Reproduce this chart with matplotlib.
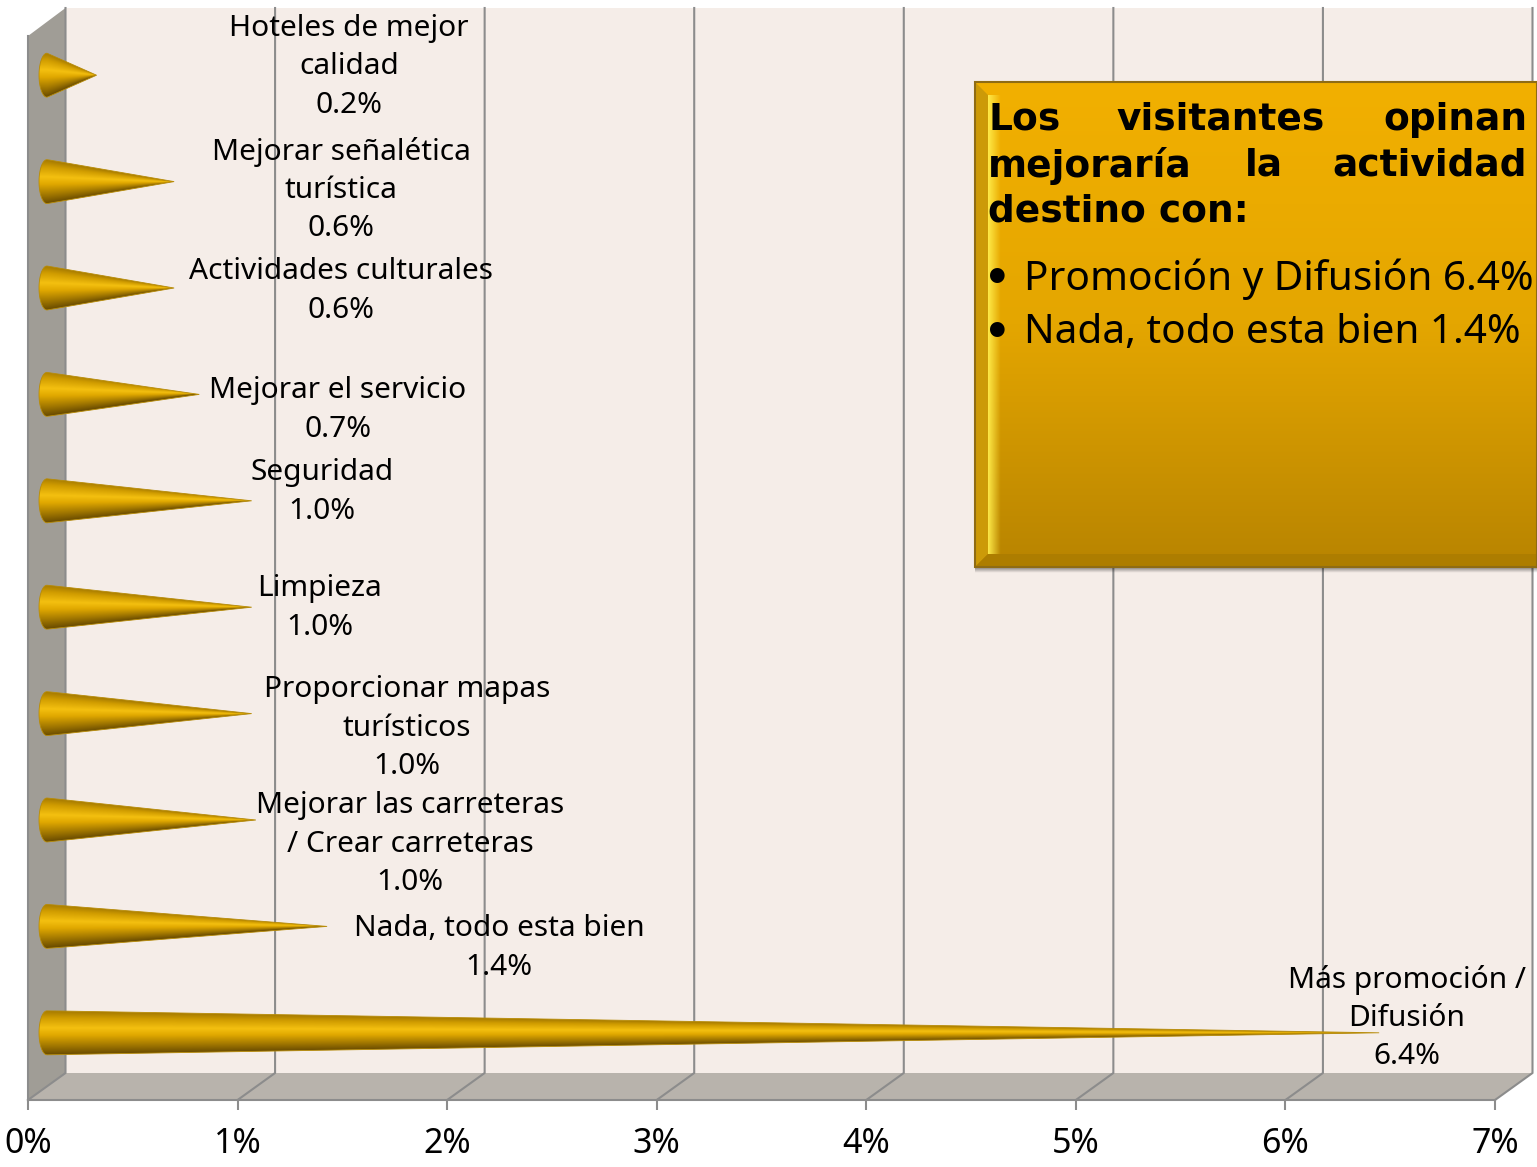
import matplotlib
matplotlib.use('Agg')
import matplotlib.pyplot as plt
import numpy as np
from matplotlib.colors import LinearSegmentedColormap
from matplotlib.patches import Polygon

# Datos, de abajo hacia arriba
categorias = ['Más promoción /\nDifusión', 'Nada, todo esta bien',
              'Mejorar las carreteras\n/ Crear carreteras',
              'Proporcionar mapas\nturísticos', 'Limpieza', 'Seguridad',
              'Mejorar el servicio', 'Actividades culturales',
              'Mejorar señalética\nturística', 'Hoteles de mejor\ncalidad']
valores = [6.39, 1.37, 1.03, 1.01, 1.01, 1.01, 0.76, 0.64, 0.64, 0.27]
etiquetas = ['6.4%', '1.4%', '1.0%', '1.0%', '1.0%', '1.0%', '0.7%', '0.6%', '0.6%', '0.2%']
ticks = [0, 1, 2, 3, 4, 5, 6, 7]
tick_labels = ['0%', '1%', '2%', '3%', '4%', '5%', '6%', '7%']

# Centro de cada etiqueta en pixeles
etiqueta_x = [1407, 499, 410, 407, 320, 322, 338, 341, 341, 349]
etiqueta_y = [1018, 948, 844, 728, 608, 492, 410, 291, 190, 67]

W, H = 1537, 1167
FUENTE = ['Noto Sans', 'DejaVu Sans']
GRIS = '#8c8c8c'
plt.rcParams['font.family'] = FUENTE

fig = plt.figure(figsize=(W / 100, H / 100), dpi=100)

# Fondo en pixeles: paredes y cuadro de texto
bg = fig.add_axes([0, 0, 1, 1], zorder=0)
bg.set_xlim(0, W)
bg.set_ylim(H, 0)
bg.axis('off')

X0, X7, Y_TOP, Y_BOT = 28, 1495, 36, 1100
DX, DY = 37.5, 27
PASO = (X7 - X0) / 7

bg.add_patch(Polygon([(X0 + DX, Y_TOP - 28), (X7 + DX, Y_TOP - 28), (X7 + DX, Y_BOT - DY), (X0 + DX, Y_BOT - DY)],
                     fc='#f5ede8', ec='none'))
bg.add_patch(Polygon([(X0, Y_TOP), (X0 + DX, Y_TOP - 28), (X0 + DX, Y_BOT - DY), (X0, Y_BOT)],
                     fc='#a09d96', ec='none'))
bg.add_patch(Polygon([(X0, Y_BOT), (X0 + DX, Y_BOT - DY), (X7 + DX, Y_BOT - DY), (X7, Y_BOT)],
                     fc='#b8b3ac', ec='none'))
for t in ticks:
    x = X0 + t * PASO
    bg.plot([x, x + DX, x + DX], [Y_BOT, Y_BOT - DY, Y_TOP - 28], color=GRIS, lw=1.5, zorder=2)

# Sombra bajo el cuadro
sombra = np.zeros((16, 1, 4))
sombra[:, 0, 3] = np.linspace(0.45, 0, 16)
bg.imshow(sombra, extent=[975, 1537, 573, 567], aspect='auto', zorder=2.5)

# Cuadro con degradado y bisel
caja = [975, 1537, 82, 567]
grad = LinearSegmentedColormap.from_list('caja', ['#f2b000', '#e4a600', '#b88400'])
bg.imshow(np.linspace(0, 1, 256).reshape(-1, 1), extent=[caja[0], caja[1], caja[3], caja[2]],
          cmap=grad, aspect='auto', zorder=3)
bg.add_patch(Polygon([(975, 82), (988, 95), (988, 554), (975, 567)], fc='#cc9a08', ec='none', zorder=3.1))
brillo = np.zeros((1, 32, 4))
brillo[0, :, :3] = [1, 0.93, 0.3]
brillo[0, :, 3] = np.linspace(0.95, 0, 32)
bg.imshow(brillo, extent=[988, 1001, 554, 95], aspect='auto', zorder=3.1)
bg.add_patch(Polygon([(975, 567), (988, 554), (1537, 554), (1537, 567)], fc='#ad7d00', ec='none', zorder=3.2))
bg.add_patch(Polygon([(975, 82), (1537, 82), (1537, 567), (975, 567)], fc='none', ec='#8f6c14', lw=1.5, zorder=4))
bg.set_xlim(0, W)
bg.set_ylim(H, 0)

NEGRITA = {'fontsize': 27, 'fontweight': 'bold', 'family': 'DejaVu Sans', 'va': 'center', 'zorder': 5}
bg.text(988, 120, 'Los', ha='left', **NEGRITA)
bg.text(1221, 120, 'visitantes', ha='center', **NEGRITA)
bg.text(1527, 120, 'opinan', ha='right', **NEGRITA)
bg.text(988, 166, 'mejoraría', ha='left', **NEGRITA)
bg.text(1264, 166, 'la', ha='center', **NEGRITA)
bg.text(1527, 166, 'actividad', ha='right', **NEGRITA)
bg.text(988, 212, 'destino con:', ha='left', **NEGRITA)
for txt, y in [('Promoción y Difusión 6.4%', 275), ('Nada, todo esta bien 1.4%', 329)]:
    bg.text(997, y + 4, '•', fontsize=30, family='DejaVu Sans', fontweight='bold', ha='center', va='center', zorder=5)
    bg.text(1024, y + 4, txt, fontsize=29.2, ha='left', va='center', zorder=5)

# Ejes de datos, plano frontal
ax = fig.add_axes([X0 / W, 1 - Y_BOT / H, (X7 - X0) / W, (Y_BOT - Y_TOP) / H], zorder=1)
ax.patch.set_alpha(0)
ax.set_xlim(0, 7)
ax.set_ylim(-0.5, 9.5)
for s in ['top', 'right']:
    ax.spines[s].set_visible(False)
for s in ['left', 'bottom']:
    ax.spines[s].set_color(GRIS)
    ax.spines[s].set_linewidth(1.5)
ax.set_yticks([])
ax.set_xticks(ticks)
ax.set_xticklabels(tick_labels, fontsize=24.5)
ax.tick_params(axis='x', length=7.5, width=1.5, color=GRIS, pad=12)

# Conos
conos = LinearSegmentedColormap.from_list('cono', [
    (0.0, '#a87c00'), (0.15, '#d09c00'), (0.38, '#f4c010'), (0.55, '#e0a800'),
    (0.8, '#a07600'), (1.0, '#6a4c00')])
ux, uy = 1 / PASO, 10 / (Y_BOT - Y_TOP)  # unidades de dato por pixel
sx, sy = 12 * ux, 14 * uy  # desplazamiento de profundidad
base_x, rx, ry = 19 * ux, 8 * ux, 22 * uy

for i, v in enumerate(valores):
    yc = i + sy
    punta = v + sx
    th = np.linspace(np.pi / 2, 3 * np.pi / 2, 30)
    borde = np.column_stack([base_x + rx * np.cos(th), yc + ry * np.sin(th)])
    poli = np.vstack([borde, [punta, yc]])

    xs = np.linspace(base_x - rx, punta, 500)
    ys = np.linspace(1, -1, 120)
    frac = np.clip((punta - xs) / (punta - base_x), 0.004, 1)
    img = 1 - np.clip((ys[:, None] / frac[None, :] + 1) / 2, 0, 1)
    parche = Polygon(poli, transform=ax.transData, fc='none', ec='none')
    ax.add_patch(parche)
    im = ax.imshow(img, extent=[xs[0], xs[-1], yc - ry, yc + ry], origin='upper', cmap=conos,
                   vmin=0, vmax=1, aspect='auto', interpolation='bilinear', zorder=3)
    im.set_clip_path(parche)
    ax.add_patch(Polygon(poli, fc='none', ec='#b88c08', lw=0.6, zorder=4))

ax.set_xlim(0, 7)
ax.set_ylim(-0.5, 9.5)

# Etiquetas de datos
for nombre, et, x, y in zip(categorias, etiquetas, etiqueta_x, etiqueta_y):
    ax.text(x, y, f'{nombre}\n{et}', transform=bg.transData, fontsize=21.5, ha='center', va='center',
            linespacing=1.42, zorder=6, clip_on=False)

fig.savefig('out.png', dpi=100)
